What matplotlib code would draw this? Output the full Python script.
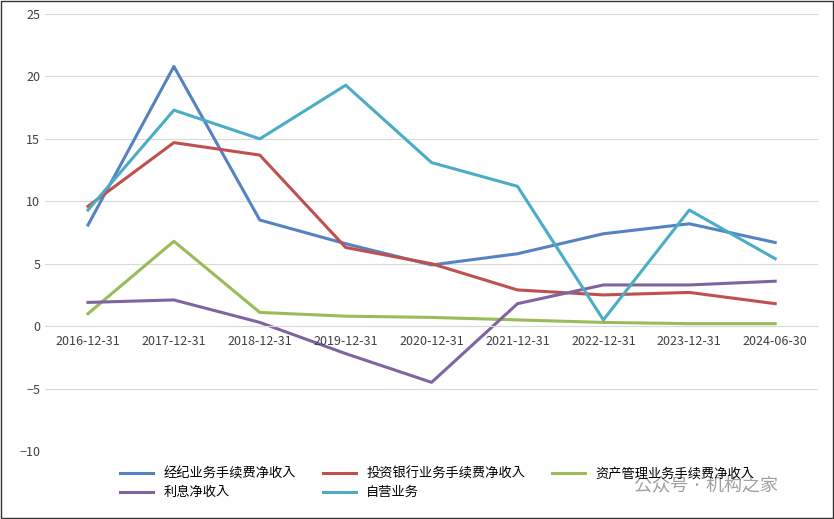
import matplotlib.pyplot as plt
from matplotlib.patches import Rectangle
from matplotlib import font_manager

names = {f.name for f in font_manager.fontManager.ttflist}
cjk = [n for n in ['Noto Sans CJK SC', 'Noto Sans CJK JP', 'Noto Sans CJK TC', 'Noto Sans CJK KR'] if n in names]
plt.rcParams['font.family'] = 'sans-serif'
plt.rcParams['font.sans-serif'] = cjk + ['DejaVu Sans']

dates = ['2016-12-31', '2017-12-31', '2018-12-31', '2019-12-31', '2020-12-31',
         '2021-12-31', '2022-12-31', '2023-12-31', '2024-06-30']
brokerage = [8.1, 20.8, 8.5, 6.6, 4.9, 5.8, 7.4, 8.2, 6.7]
ibank = [9.6, 14.7, 13.7, 6.3, 5.0, 2.9, 2.5, 2.7, 1.8]
asset_mgmt = [1.0, 6.8, 1.1, 0.8, 0.7, 0.5, 0.3, 0.2, 0.2]
interest = [1.9, 2.1, 0.3, -2.2, -4.5, 1.8, 3.3, 3.3, 3.6]
proprietary = [9.3, 17.3, 15.0, 19.3, 13.1, 11.2, 0.5, 9.3, 5.4]

series = [
    ('经纪业务手续费净收入', brokerage, '#5582C2'),
    ('投资银行业务手续费净收入', ibank, '#C0504D'),
    ('资产管理业务手续费净收入', asset_mgmt, '#9BBB59'),
    ('利息净收入', interest, '#8064A2'),
    ('自营业务', proprietary, '#4BACC6'),
]

fig = plt.figure(figsize=(8.34, 5.19), dpi=100)
ax = fig.add_axes([0.054, 0.131, 0.927, 0.842])
x = range(len(dates))
lines = []
for name, vals, col in series:
    ln, = ax.plot(x, vals, color=col, lw=2.2, label=name)
    lines.append(ln)

ax.set_xlim(-0.5, 8.5)
ax.set_ylim(-10, 25)
ax.set_yticks(range(-10, 26, 5))
ax.grid(axis='y', color='#d9d9d9', lw=0.8)
ax.set_axisbelow(True)
for s in ax.spines.values():
    s.set_visible(False)
ax.axhline(0, color='#d9d9d9', lw=0.8)
ax.tick_params(length=0, labelsize=9, colors='#404040')
ax.set_xticks([])
for i, d in enumerate(dates):
    ax.text(i, -0.7, d, ha='center', va='top', fontsize=9, color='#404040')

# legend fills column-wise, reorder so rows read like the reference
order = [0, 3, 1, 4, 2]
hs = [lines[i] for i in order]
fig.legend(hs, [h.get_label() for h in hs], loc='lower left', bbox_to_anchor=(0.13, 0.015),
           ncol=3, frameon=False, fontsize=9.5, handlelength=2.5, columnspacing=2.0,
           labelspacing=0.4)
fig.text(0.76, 0.055, '公众号 · 机构之家', fontsize=13, color='#888888', alpha=0.8)
fig.patches.append(Rectangle((0.001, 0.001), 0.998, 0.998, transform=fig.transFigure,
                             fill=False, edgecolor='#333333', lw=1))
fig.savefig('out.png', dpi=100)
